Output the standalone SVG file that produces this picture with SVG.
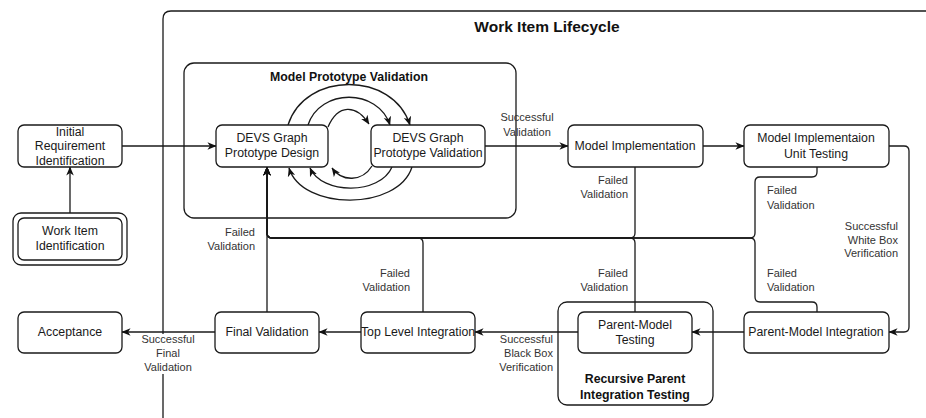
<svg xmlns="http://www.w3.org/2000/svg" width="926" height="418" viewBox="0 0 926 418">
  <defs>
    <marker id="arrow" viewBox="0 0 10 10" refX="9.5" refY="5" markerWidth="9" markerHeight="9" markerUnits="userSpaceOnUse" orient="auto">
      <path d="M0,0.8 L10,5 L0,9.2 L2.8,5 Z" fill="#111"/>
    </marker>
    <style>
      .box { fill: #fff; stroke: #1a1a1a; stroke-width: 1.3; }
      .frame { fill: none; stroke: #1a1a1a; stroke-width: 1.3; }
      .edge { fill: none; stroke: #1a1a1a; stroke-width: 1.3; }
      .arr { marker-end: url(#arrow); }
      text { font-family: "Liberation Sans", Arial, Helvetica, sans-serif; fill: #1a1a1a; }
      .node { font-size: 12.3px; text-anchor: middle; }
      .title { font-size: 12.3px; font-weight: bold; text-anchor: middle; fill: #111; }
      .big { font-size: 15.5px; font-weight: bold; text-anchor: middle; fill: #111; }
      .lbl { font-size: 11px; fill: #333; }
      .r { text-anchor: end; }
      .c { text-anchor: middle; }
    </style>
  </defs>

  <!-- containers -->
  <g id="work-item-lifecycle">
    <path class="frame" d="M163,418 V19 Q163,11 171,11 H930"/>
    <text class="big" x="547" y="32">Work Item Lifecycle</text>
  </g>
  <g id="model-prototype-validation">
    <rect class="frame" x="184" y="63" width="332" height="155" rx="10"/>
    <text class="title" x="349" y="81">Model Prototype Validation</text>
  </g>
  <g id="recursive-parent-integration">
    <rect class="frame" x="558" y="302" width="155" height="103" rx="9"/>
    <text class="title" x="635" y="383">Recursive Parent</text>
    <text class="title" x="635" y="399">Integration Testing</text>
  </g>

  <!-- connectors -->
  <g id="connectors">
    <path class="edge arr" d="M70,218 V167"/>
    <path class="edge arr" d="M122,146 H216"/>
    <path class="edge arr" d="M485,146 H568"/>
    <path class="edge arr" d="M703,146 H744"/>
    <path class="edge arr" d="M889,146 H904 Q909,146 909,151 V327 Q909,332 904,332 H889"/>
    <path class="edge arr" d="M744,332 H692"/>
    <path class="edge arr" d="M578,332 H475"/>
    <path class="edge arr" d="M361,332 H319"/>
    <path class="edge arr" d="M215,332 H122"/>

    <!-- prototype design / validation loop -->
    <path class="edge arr" d="M288,125 C305,71 393,71 410,125"/>
    <path class="edge arr" d="M308,125 C320,88 378,88 390,125"/>
    <path class="edge arr" d="M328,127 C338,104 356,104 369,124"/>
    <path class="edge arr" d="M412,167 C398,211 302,211 289,168"/>
    <path class="edge arr" d="M392,167 C380,195 322,195 310,168"/>
    <path class="edge arr" d="M372,166 C362,182 342,182 332,168"/>

    <!-- failed validation returns -->
    <path class="edge arr" d="M267,312 V167"/>
    <path class="edge arr" d="M635,167 V233 Q635,238 630,238 H272 Q267,238 267,233 V167"/>
    <path class="edge arr" d="M817,167 V172 Q817,177 812,177 H760 Q755,177 755,182 V233 Q755,238 750,238 H272 Q267,238 267,233 V167"/>
    <path class="edge arr" d="M423,312 V243 Q423,238 418,238 H272 Q267,238 267,233 V167"/>
    <path class="edge arr" d="M635,312 V243 Q635,238 630,238 H272 Q267,238 267,233 V167"/>
    <path class="edge arr" d="M817,312 V307 Q817,302 812,302 H760 Q755,302 755,297 V243 Q755,238 750,238 H272 Q267,238 267,233 V167"/>

    <!-- edge labels -->
    <text class="lbl c" x="527" y="121">Successful</text>
    <text class="lbl c" x="527" y="136">Validation</text>
    <text class="lbl r" x="628" y="184">Failed</text>
    <text class="lbl r" x="628" y="198">Validation</text>
    <text class="lbl" x="767" y="194">Failed</text>
    <text class="lbl" x="767" y="209">Validation</text>
    <text class="lbl r" x="898" y="230">Successful</text>
    <text class="lbl r" x="898" y="244">White Box</text>
    <text class="lbl r" x="898" y="257">Verification</text>
    <text class="lbl r" x="255" y="236">Failed</text>
    <text class="lbl r" x="255" y="250">Validation</text>
    <text class="lbl r" x="410" y="277">Failed</text>
    <text class="lbl r" x="410" y="291">Validation</text>
    <text class="lbl r" x="628" y="277">Failed</text>
    <text class="lbl r" x="628" y="291">Validation</text>
    <text class="lbl" x="767" y="277">Failed</text>
    <text class="lbl" x="767" y="291">Validation</text>
    <text class="lbl r" x="553" y="343">Successful</text>
    <text class="lbl r" x="553" y="357">Black Box</text>
    <text class="lbl r" x="553" y="371">Verification</text>
    <rect x="140" y="334" width="56" height="40" fill="#fff"/>
    <text class="lbl c" x="168" y="343">Successful</text>
    <text class="lbl c" x="168" y="357">Final</text>
    <text class="lbl c" x="168" y="371">Validation</text>
  </g>

  <!-- nodes -->
  <g id="initial-requirement">
    <rect class="box" x="18" y="125" width="104" height="42" rx="6"/>
    <text class="node" x="70" y="136">Initial</text>
    <text class="node" x="70" y="150">Requirement</text>
    <text class="node" x="70" y="165">Identification</text>
  </g>
  <g id="work-item-identification">
    <rect class="box" x="13" y="213" width="114" height="52" rx="8"/>
    <rect class="box" x="18" y="218" width="104" height="42" rx="6"/>
    <text class="node" x="70" y="235">Work Item</text>
    <text class="node" x="70" y="250">Identification</text>
  </g>
  <g id="prototype-design">
    <rect class="box" x="216" y="125" width="112" height="42" rx="6"/>
    <text class="node" x="272" y="142">DEVS Graph</text>
    <text class="node" x="272" y="157">Prototype Design</text>
  </g>
  <g id="prototype-validation">
    <rect class="box" x="371" y="125" width="114" height="42" rx="6"/>
    <text class="node" x="428" y="142">DEVS Graph</text>
    <text class="node" x="428" y="157">Prototype Validation</text>
  </g>
  <g id="model-implementation">
    <rect class="box" x="568" y="125" width="135" height="42" rx="6"/>
    <text class="node" x="635" y="150">Model Implementation</text>
  </g>
  <g id="unit-testing">
    <rect class="box" x="744" y="125" width="145" height="42" rx="6"/>
    <text class="node" x="816" y="142">Model Implementaion</text>
    <text class="node" x="816" y="158">Unit Testing</text>
  </g>
  <g id="parent-model-integration">
    <rect class="box" x="744" y="312" width="145" height="41" rx="6"/>
    <text class="node" x="816" y="336">Parent-Model Integration</text>
  </g>
  <g id="parent-model-testing">
    <rect class="box" x="578" y="312" width="114" height="41" rx="6"/>
    <text class="node" x="635" y="329">Parent-Model</text>
    <text class="node" x="635" y="344">Testing</text>
  </g>
  <g id="top-level-integration">
    <rect class="box" x="361" y="312" width="114" height="41" rx="6"/>
    <text class="node" x="418" y="336">Top Level Integration</text>
  </g>
  <g id="final-validation">
    <rect class="box" x="215" y="312" width="104" height="41" rx="6"/>
    <text class="node" x="267" y="336">Final Validation</text>
  </g>
  <g id="acceptance">
    <rect class="box" x="18" y="312" width="104" height="41" rx="6"/>
    <text class="node" x="70" y="336">Acceptance</text>
  </g>
</svg>
